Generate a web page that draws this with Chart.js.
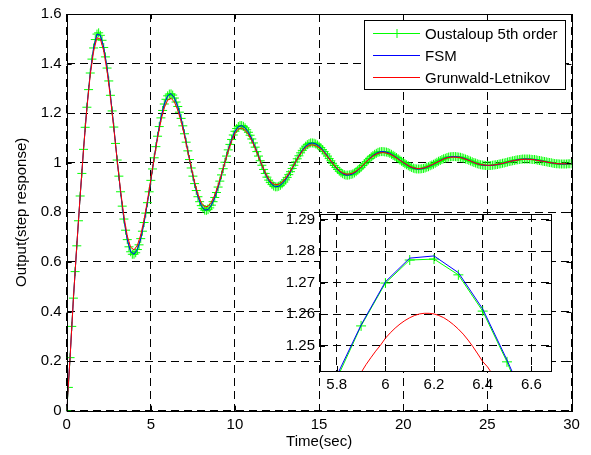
<!DOCTYPE html>
<html>
<head>
<meta charset="utf-8">
<script src="https://cdn.jsdelivr.net/npm/chart.js@4.4.1/dist/chart.umd.min.js"></script>
<style>
  html, body { margin: 0; padding: 0; background: #fff; }
  #wrap { position: relative; width: 591px; height: 455px; }
  #main { position: absolute; left: 0; top: 0; }
  #inset { position: absolute; left: 270px; top: 200px; }
</style>
</head>
<body>
<div id="wrap">
  <canvas id="main" width="591" height="455"></canvas>
  <canvas id="inset" width="290" height="200"></canvas>
</div>
<script>
/* ---------- data ---------- */

// Oustaloup 5th order, sampled every 0.1 s from t = 0 to 30
const oustaloupStep = 0.1;
const oustaloupY = [
  0, 0.094, 0.214, 0.340, 0.454, 0.561, 0.665, 0.766, 0.866, 0.957,
  1.054, 1.143, 1.224, 1.295, 1.362, 1.418, 1.463, 1.497, 1.519, 1.524,
  1.514, 1.494, 1.465, 1.427, 1.382, 1.330, 1.272, 1.209, 1.144, 1.078,
  1.011, 0.946, 0.883, 0.825, 0.773, 0.728, 0.690, 0.661, 0.641, 0.631,
  0.631, 0.637, 0.650, 0.669, 0.694, 0.724, 0.759, 0.797, 0.839, 0.883,
  0.929, 0.975, 1.020, 1.065, 1.107, 1.146, 1.181, 1.211, 1.237, 1.256,
  1.270, 1.277, 1.278, 1.273, 1.261, 1.245, 1.227, 1.204, 1.179, 1.149,
  1.117, 1.083, 1.048, 1.013, 0.979, 0.946, 0.916, 0.888, 0.863, 0.843,
  0.827, 0.816, 0.809, 0.808, 0.811, 0.818, 0.829, 0.843, 0.860, 0.880,
  0.902, 0.926, 0.951, 0.976, 1.002, 1.027, 1.052, 1.074, 1.094, 1.112,
  1.127, 1.138, 1.146, 1.150, 1.150, 1.147, 1.141, 1.133, 1.123, 1.111,
  1.096, 1.080, 1.063, 1.045, 1.027, 1.008, 0.990, 0.973, 0.957, 0.942,
  0.930, 0.920, 0.912, 0.906, 0.903, 0.903, 0.905, 0.909, 0.915, 0.922,
  0.931, 0.941, 0.952, 0.964, 0.977, 0.990, 1.003, 1.016, 1.028, 1.040,
  1.050, 1.059, 1.067, 1.073, 1.077, 1.080, 1.080, 1.079, 1.076, 1.072,
  1.067, 1.061, 1.053, 1.045, 1.036, 1.027, 1.017, 1.008, 0.998, 0.989,
  0.981, 0.973, 0.966, 0.960, 0.956, 0.952, 0.950, 0.950, 0.951, 0.953,
  0.955, 0.959, 0.964, 0.970, 0.976, 0.982, 0.989, 0.996, 1.004, 1.011,
  1.017, 1.024, 1.029, 1.034, 1.038, 1.042, 1.044, 1.045, 1.045, 1.044,
  1.043, 1.041, 1.038, 1.034, 1.030, 1.026, 1.021, 1.016, 1.011, 1.006,
  1.001, 0.996, 0.992, 0.988, 0.984, 0.981, 0.978, 0.976, 0.975, 0.975,
  0.975, 0.976, 0.977, 0.979, 0.982, 0.984, 0.988, 0.991, 0.994, 0.998,
  1.002, 1.006, 1.009, 1.013, 1.016, 1.018, 1.021, 1.023, 1.024, 1.025,
  1.025, 1.025, 1.024, 1.023, 1.022, 1.020, 1.018, 1.015, 1.013, 1.010,
  1.007, 1.004, 1.001, 0.999, 0.996, 0.994, 0.992, 0.991, 0.990, 0.989,
  0.989, 0.989, 0.989, 0.990, 0.991, 0.992, 0.993, 0.995, 0.996, 0.998,
  0.999, 1.001, 1.003, 1.005, 1.006, 1.008, 1.009, 1.011, 1.012, 1.013,
  1.014, 1.015, 1.015, 1.015, 1.015, 1.015, 1.014, 1.013, 1.013, 1.012,
  1.010, 1.009, 1.008, 1.006, 1.005, 1.004, 1.002, 1.001, 1.000, 0.998,
  0.997, 0.996, 0.996, 0.995, 0.995, 0.995, 0.995, 0.995, 0.996, 0.996,
  0.996
];

// FSM and Grunwald-Letnikov, sampled every 0.2 s from t = 0 to 30
const lineStep = 0.2;
const fsmY = [
  0, 0.214, 0.454, 0.665, 0.866, 1.054, 1.224, 1.362, 1.463, 1.519,
  1.514, 1.465, 1.382, 1.272, 1.144, 1.011, 0.883, 0.773, 0.690, 0.641,
  0.631, 0.650, 0.694, 0.759, 0.839, 0.929, 1.020, 1.107, 1.181, 1.237,
  1.270, 1.279, 1.262, 1.227, 1.179, 1.117, 1.048, 0.979, 0.916, 0.863,
  0.827, 0.809, 0.811, 0.829, 0.860, 0.902, 0.951, 1.002, 1.052, 1.094,
  1.127, 1.146, 1.150, 1.141, 1.123, 1.096, 1.063, 1.027, 0.990, 0.957,
  0.930, 0.912, 0.903, 0.905, 0.915, 0.931, 0.952, 0.977, 1.003, 1.028,
  1.050, 1.067, 1.077, 1.080, 1.076, 1.067, 1.053, 1.036, 1.017, 0.998,
  0.981, 0.966, 0.956, 0.950, 0.951, 0.955, 0.964, 0.976, 0.989, 1.004,
  1.017, 1.029, 1.038, 1.044, 1.045, 1.043, 1.038, 1.030, 1.021, 1.011,
  1.001, 0.992, 0.984, 0.978, 0.975, 0.975, 0.977, 0.982, 0.988, 0.994,
  1.002, 1.009, 1.016, 1.021, 1.024, 1.025, 1.024, 1.022, 1.018, 1.013,
  1.007, 1.001, 0.996, 0.992, 0.990, 0.989, 0.989, 0.991, 0.993, 0.996,
  0.999, 1.003, 1.006, 1.009, 1.012, 1.014, 1.015, 1.015, 1.014, 1.013,
  1.010, 1.008, 1.005, 1.002, 1.000, 0.997, 0.996, 0.995, 0.995, 0.996,
  0.996
];
const glY = [
  0, 0.214, 0.454, 0.666, 0.867, 1.053, 1.220, 1.355, 1.450, 1.504,
  1.499, 1.451, 1.369, 1.262, 1.139, 1.010, 0.889, 0.784, 0.705, 0.659,
  0.649, 0.667, 0.709, 0.771, 0.848, 0.933, 1.019, 1.100, 1.170, 1.222,
  1.2525, 1.2601, 1.245, 1.212, 1.167, 1.109, 1.045, 0.981, 0.922, 0.873,
  0.839, 0.822, 0.824, 0.841, 0.870, 0.909, 0.954, 1.002, 1.048, 1.087,
  1.118, 1.136, 1.140, 1.131, 1.114, 1.089, 1.059, 1.025, 0.991, 0.960,
  0.935, 0.918, 0.912, 0.913, 0.922, 0.937, 0.956, 0.979, 1.003, 1.026,
  1.046, 1.061, 1.070, 1.072, 1.069, 1.061, 1.049, 1.033, 1.016, 0.998,
  0.982, 0.968, 0.959, 0.954, 0.955, 0.958, 0.966, 0.977, 0.990, 1.004,
  1.016, 1.027, 1.035, 1.040, 1.041, 1.039, 1.035, 1.028, 1.019, 1.010,
  1.001, 0.993, 0.985, 0.980, 0.977, 0.977, 0.979, 0.983, 0.989, 0.995,
  1.002, 1.008, 1.015, 1.020, 1.022, 1.023, 1.022, 1.021, 1.017, 1.012,
  1.007, 1.001, 0.996, 0.993, 0.991, 0.990, 0.990, 0.991, 0.994, 0.996,
  0.999, 1.003, 1.006, 1.009, 1.011, 1.013, 1.014, 1.014, 1.013, 1.012,
  1.009, 1.007, 1.005, 1.002, 1.000, 0.998, 0.996, 0.996, 0.996, 0.996,
  0.996
];

const xTicks = [0, 5, 10, 15, 20, 25, 30];
const xTickLabels = ['0', '5', '10', '15', '20', '25', '30'];
const yTicks = [0, 0.2, 0.4, 0.6, 0.8, 1, 1.2, 1.4, 1.6];
const yTickLabels = ['0', '0.2', '0.4', '0.6', '0.8', '1', '1.2', '1.4', '1.6'];

// zoomed inset around the second peak
const insetT = [5.8, 5.9, 6.0, 6.1, 6.2, 6.3, 6.4, 6.5, 6.6];
const insetOustaloup = [1.2395, 1.2563, 1.2699, 1.2772, 1.2775, 1.2725, 1.2610, 1.2449, 1.2260];
const insetFsm = [1.2405, 1.2566, 1.2703, 1.2778, 1.2785, 1.2732, 1.2617, 1.2455, 1.2280];
const insetGlT = [5.88, 5.90, 5.92, 5.94, 5.96, 5.98, 6.00, 6.02, 6.04, 6.06, 6.08, 6.10,
  6.12, 6.14, 6.16, 6.18, 6.20, 6.22, 6.24, 6.26, 6.28, 6.30, 6.32, 6.34, 6.36,
  6.38, 6.40, 6.42, 6.44, 6.46];
const insetGl = [1.2390, 1.2415, 1.2440, 1.2462, 1.2483, 1.2502, 1.2524, 1.2541, 1.2556,
  1.2569, 1.2580, 1.2589, 1.2596, 1.2601, 1.2603, 1.2603, 1.2601, 1.2596, 1.2589,
  1.2579, 1.2567, 1.2553, 1.2537, 1.2518, 1.2497, 1.2474, 1.2450, 1.2433, 1.2410, 1.2385];

const insetXTicks = [5.8, 6.0, 6.2, 6.4, 6.6];
const insetXTickLabels = ['5.8', '6', '6.2', '6.4', '6.6'];
const insetYTicks = [1.25, 1.26, 1.27, 1.28, 1.29];
const insetYTickLabels = ['1.25', '1.26', '1.27', '1.28', '1.29'];

const seriesNames = ['Oustaloup 5th order', 'FSM', 'Grunwald-Letnikov'];

/* ---------- style ---------- */
const FONT = { family: '"Liberation Sans", Arial, Helvetica, sans-serif', size: 15 };
const GREEN = '#00ff00';
const BLUE = '#0000ff';
const RED = '#ff0000';
const DASH = [8, 5];

Chart.defaults.color = '#000';
Chart.defaults.font.family = FONT.family;

function toPoints(ys, step) {
  return ys.map((y, i) => ({ x: Math.round(i * step * 100) / 100, y }));
}
function zipPoints(xs, ys) {
  return xs.map((x, i) => ({ x, y: ys[i] }));
}

function fixedTicks(values) {
  return scale => { scale.ticks = values.map(v => ({ value: v })); };
}

function axis(ticks, labels, extra) {
  return {
    type: 'linear',
    afterBuildTicks: fixedTicks(ticks),
    ticks: {
      autoSkip: false, maxRotation: 0, padding: 5, color: '#000', font: FONT,
      callback: (v, i) => labels[i],
    },
    grid: { color: '#000', lineWidth: 1, drawTicks: false, borderDash: DASH },
    border: { display: false, dash: DASH },
    ...extra,
  };
}

/* box round the plot area plus inward tick marks, matlab style */
const frame = {
  id: 'frame',
  afterDatasetsDraw(chart) {
    const { ctx, chartArea: a, scales: { x, y } } = chart;
    const len = 5;
    ctx.save();
    ctx.strokeStyle = '#000';
    ctx.lineWidth = 1;
    ctx.setLineDash([]);
    ctx.beginPath();
    x.ticks.forEach(t => {
      const px = Math.round(x.getPixelForValue(t.value)) + 0.5;
      ctx.moveTo(px, a.bottom); ctx.lineTo(px, a.bottom - len);
      ctx.moveTo(px, a.top); ctx.lineTo(px, a.top + len);
    });
    y.ticks.forEach(t => {
      const py = Math.round(y.getPixelForValue(t.value)) + 0.5;
      ctx.moveTo(a.left, py); ctx.lineTo(a.left + len, py);
      ctx.moveTo(a.right, py); ctx.lineTo(a.right - len, py);
    });
    ctx.stroke();
    const l = Math.round(a.left) + 0.5, t = Math.round(a.top) + 0.5;
    const r = Math.round(a.right) + 0.5, b = Math.round(a.bottom) + 0.5;
    ctx.strokeRect(l, t, r - l, b - t);
    ctx.restore();
  },
};

const whiteArea = {
  id: 'whiteArea',
  beforeDraw(chart) {
    const { ctx, chartArea: a } = chart;
    ctx.save();
    ctx.fillStyle = '#fff';
    ctx.fillRect(a.left, a.top, a.right - a.left, a.bottom - a.top);
    ctx.restore();
  },
};

/* legend box in the upper right corner of the main axes */
const boxLegend = {
  id: 'boxLegend',
  afterDraw(chart) {
    const ctx = chart.ctx;
    const bx = 364.5, by = 20.5, bw = 201, bh = 69;
    const rows = [33.5, 55.5, 77.5];
    const colors = [GREEN, BLUE, RED];
    ctx.save();
    ctx.fillStyle = '#fff';
    ctx.fillRect(bx, by, bw, bh);
    ctx.strokeStyle = '#000';
    ctx.lineWidth = 1;
    ctx.strokeRect(bx, by, bw, bh);
    ctx.font = `${FONT.size}px ${FONT.family}`;
    ctx.textBaseline = 'middle';
    ctx.textAlign = 'left';
    rows.forEach((ry, i) => {
      ctx.strokeStyle = colors[i];
      ctx.beginPath();
      ctx.moveTo(373, ry); ctx.lineTo(420, ry);
      if (i === 0) {
        ctx.moveTo(392.5, ry); ctx.lineTo(401.5, ry);
        ctx.moveTo(397, ry - 4.5); ctx.lineTo(397, ry + 4.5);
      }
      ctx.stroke();
      ctx.fillStyle = '#000';
      ctx.fillText(seriesNames[i], 425, ry + 1);
    });
    ctx.restore();
  },
};

/* ---------- main chart ---------- */
new Chart(document.getElementById('main'), {
  type: 'line',
  data: {
    datasets: [
      {
        label: seriesNames[2], data: toPoints(glY, lineStep), order: 0,
        borderColor: RED, borderWidth: 1, pointRadius: 0, tension: 0, fill: false,
      },
      {
        label: seriesNames[1], data: toPoints(fsmY, lineStep), order: 1,
        borderColor: BLUE, borderWidth: 1, pointRadius: 0, tension: 0, fill: false,
      },
      {
        label: seriesNames[0], data: toPoints(oustaloupY, oustaloupStep), order: 2,
        borderColor: GREEN, borderWidth: 1, tension: 0, fill: false,
        pointStyle: 'cross', pointRadius: 4.5, pointBorderWidth: 1,
        pointBorderColor: GREEN, pointBackgroundColor: GREEN,
      },
    ],
  },
  options: {
    responsive: false,
    animation: false,
    events: [],
    layout: { padding: { left: 8, top: 12, right: 19.5, bottom: 4 } },
    plugins: { legend: { display: false }, tooltip: { enabled: false } },
    scales: {
      x: axis(xTicks, xTickLabels, {
        min: 0, max: 30,
        title: { display: true, text: 'Time(sec)', color: '#000', font: FONT, padding: { top: 0, bottom: 0 } },
        afterFit: s => { s.height = 40.3; },
      }),
      y: axis(yTicks, yTickLabels, {
        min: 0, max: 1.6,
        title: { display: true, text: 'Output(step response)', color: '#000', font: FONT, padding: { top: 5, bottom: 0 } },
        afterFit: s => { s.width = 58.7; },
      }),
    },
  },
  plugins: [frame, boxLegend],
});

/* ---------- inset ---------- */
new Chart(document.getElementById('inset'), {
  type: 'line',
  data: {
    datasets: [
      {
        data: zipPoints(insetGlT, insetGl), order: 0,
        borderColor: RED, borderWidth: 1, pointRadius: 0, tension: 0, fill: false,
      },
      {
        data: zipPoints(insetT, insetFsm), order: 1,
        borderColor: BLUE, borderWidth: 1, pointRadius: 0, tension: 0, fill: false,
      },
      {
        data: zipPoints(insetT, insetOustaloup), order: 2,
        borderColor: GREEN, borderWidth: 1, tension: 0, fill: false,
        pointStyle: 'cross', pointRadius: 5, pointBorderWidth: 1,
        pointBorderColor: GREEN, pointBackgroundColor: GREEN,
      },
    ],
  },
  options: {
    responsive: false,
    animation: false,
    events: [],
    layout: { padding: { left: 0, top: 11.7, right: 9, bottom: 0 } },
    plugins: { legend: { display: false }, tooltip: { enabled: false } },
    scales: {
      x: axis(insetXTicks, insetXTickLabels, {
        min: 5.731, max: 6.681,
        afterFit: s => { s.height = 29; },
      }),
      y: axis(insetYTicks, insetYTickLabels, {
        min: 1.242, max: 1.2918,
        afterFit: s => { s.width = 50; },
      }),
    },
  },
  plugins: [whiteArea, frame],
});
</script>
</body>
</html>
